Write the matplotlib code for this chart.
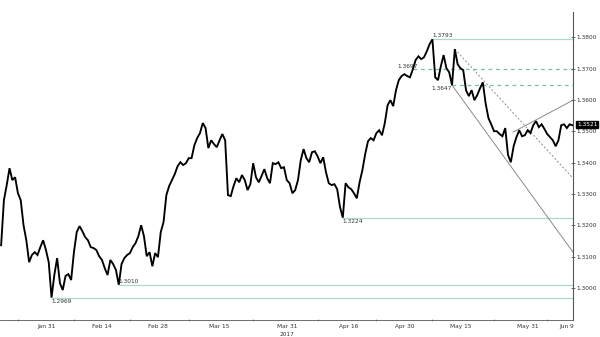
"""
USD/CAD Jan-Jun 2017 with support/resistance levels and a falling channel
"""

import matplotlib.pyplot as plt
import numpy as np

# price, one value per half trading day, starting 8 sessions before Jan 31
price = [
    1.3136, 1.3280, 1.3328, 1.3382, 1.3344, 1.3353, 1.3302, 1.3280, 1.3200, 1.3152,
    1.3082, 1.3105, 1.3114, 1.3105, 1.3130, 1.3152, 1.3121, 1.3082, 1.2969, 1.3041,
    1.3095, 1.3015, 1.2993, 1.3038, 1.3044, 1.3025, 1.3114, 1.3178, 1.3197, 1.3181,
    1.3162, 1.3152, 1.3130, 1.3127, 1.3121, 1.3101, 1.3089, 1.3063, 1.3041, 1.3089,
    1.3076, 1.3057, 1.3010, 1.3076, 1.3095, 1.3105, 1.3111, 1.3130, 1.3143, 1.3165,
    1.3200, 1.3165, 1.3101, 1.3114, 1.3069, 1.3111, 1.3098, 1.3178, 1.3210, 1.3296,
    1.3325, 1.3344, 1.3363, 1.3388, 1.3401, 1.3392, 1.3398, 1.3414, 1.3414, 1.3455,
    1.3478, 1.3494, 1.3526, 1.3510, 1.3446, 1.3471, 1.3459, 1.3449, 1.3471, 1.3491,
    1.3471, 1.3296, 1.3293, 1.3325, 1.3350, 1.3337, 1.3360, 1.3344, 1.3312, 1.3331,
    1.3398, 1.3353, 1.3337, 1.3357, 1.3379, 1.3350, 1.3334, 1.3398, 1.3395, 1.3401,
    1.3382, 1.3385, 1.3344, 1.3334, 1.3302, 1.3312, 1.3344, 1.3408, 1.3443, 1.3414,
    1.3401, 1.3433, 1.3436, 1.3420, 1.3398, 1.3417, 1.3369, 1.3334, 1.3328, 1.3331,
    1.3315, 1.3258, 1.3224, 1.3334, 1.3321, 1.3315, 1.3302, 1.3286, 1.3337, 1.3376,
    1.3427, 1.3468, 1.3478, 1.3471, 1.3494, 1.3503, 1.3487, 1.3526, 1.3583, 1.3599,
    1.3580, 1.3631, 1.3663, 1.3676, 1.3682, 1.3676, 1.3672, 1.3697, 1.3727, 1.3739,
    1.3730, 1.3736, 1.3755, 1.3778, 1.3793, 1.3672, 1.3663, 1.3707, 1.3743, 1.3701,
    1.3688, 1.3647, 1.3762, 1.3714, 1.3701, 1.3695, 1.3631, 1.3612, 1.3631, 1.3599,
    1.3615, 1.3637, 1.3656, 1.3589, 1.3542, 1.3522, 1.3500, 1.3500, 1.3491, 1.3484,
    1.3510, 1.3424, 1.3401, 1.3452, 1.3481, 1.3503, 1.3484, 1.3487, 1.3503, 1.3494,
    1.3519, 1.3532, 1.3513, 1.3522, 1.3507, 1.3491, 1.3481, 1.3471, 1.3452, 1.3471,
    1.3519, 1.3522, 1.3510, 1.3522, 1.3519,
]
first_session = -8

# marked levels
levels = [1.3793, 1.3697, 1.3647, 1.3224, 1.3010, 1.2969]
level_styles = ['solid', 'dashed', 'dashed', 'solid', 'solid', 'solid']
last_price = 1.3521

# trend lines: (session, price) at each end
trend_lower = [(72.5, 1.3647), (94.1, 1.3114)]
trend_upper = [(73.0, 1.3762), (94.1, 1.3350)]
trend_rebound = [(83.4, 1.3497), (94.1, 1.3599)]

# x axis labels
label_dates = ['2017-01-31', '2017-02-14', '2017-02-28', '2017-03-15', '2017-03-31',
               '2017-04-16', '2017-04-30', '2017-05-15', '2017-05-31', '2017-06-09']
label_texts = ['Jan 31', 'Feb 14', 'Feb 28', 'Mar 15', 'Mar 31',
               'Apr 16', 'Apr 30', 'May 15', 'May 31', 'Jun 9']
y_ticks = [1.30, 1.31, 1.32, 1.33, 1.34, 1.35, 1.36, 1.37, 1.38]

LEVEL_COLOR = '#a9dcc8'
DASH_COLOR = '#72c0aa'
TREND_COLOR = '#8a8a8a'
TEXT_COLOR = '#333333'

price = np.array(price)
sessions = first_session + 0.5 * np.arange(len(price))
label_pos = np.busday_count('2017-01-31', label_dates)

fig = plt.figure(figsize=(6, 3.37), dpi=100)
ax = fig.add_axes([0, 0.05, 0.955, 0.914])
x_right = 94.1
ax.set_xlim(-8.2, x_right)
ax.set_ylim(1.2897, 1.3880)

# horizontal levels from their pivot to the right edge
for lvl, style in zip(levels, level_styles):
    i = np.argmin(np.abs(price - lvl))
    color = DASH_COLOR if style == 'dashed' else LEVEL_COLOR
    ax.plot([sessions[i], x_right], [lvl, lvl], color=color, lw=0.9,
            linestyle=(0, (3, 3)) if style == 'dashed' else '-', zorder=1)

# trend lines
for (a, b), ls in [(trend_lower, '-'), (trend_upper, (0, (2, 2))), (trend_rebound, '-')]:
    ax.plot([a[0], b[0]], [a[1], b[1]], color=TREND_COLOR, lw=0.7, linestyle=ls, zorder=1)

# price
ax.plot(sessions, price, color='black', lw=1.35, solid_joinstyle='miter', zorder=3)

# level labels
fs = 4.2
lbl = dict(fontsize=fs, color=TEXT_COLOR, zorder=4)
def pivot(lvl):
    return sessions[np.argmin(np.abs(price - lvl))]
ax.text(pivot(1.3793), 1.3793 + 0.0004, '1.3793', ha='left', va='bottom', **lbl)
ax.text(pivot(1.3697) + 0.8, 1.3697 + 0.0003, '1.3697', ha='right', va='bottom', **lbl)
ax.text(pivot(1.3647), 1.3647 - 0.0004, '1.3647', ha='right', va='top', **lbl)
ax.text(pivot(1.3224), 1.3224 - 0.0003, '1.3224', ha='left', va='top', **lbl)
ax.text(pivot(1.3010), 1.3010 + 0.0003, '1.3010', ha='left', va='bottom', **lbl)
ax.text(pivot(1.2969), 1.2969 - 0.0004, '1.2969', ha='left', va='top', **lbl)

# axes
for s in ['top', 'left']:
    ax.spines[s].set_visible(False)
ax.spines['right'].set_color('#555555')
ax.spines['bottom'].set_color('#555555')
ax.spines['right'].set_linewidth(0.8)
ax.spines['bottom'].set_linewidth(0.6)

ax.yaxis.tick_right()
ax.set_yticks(y_ticks)
ax.set_yticklabels([f'{v:.4f}' for v in y_ticks])
ax.tick_params(axis='y', direction='inout', length=3, width=0.6, pad=1,
               labelsize=fs, labelcolor=TEXT_COLOR, colors='#555555')

mid = (label_pos[:-1] + label_pos[1:]) / 2
ax.set_xticks(np.concatenate([[label_pos[0] - 5], mid]))
ax.set_xticklabels([])
ax.tick_params(axis='x', direction='inout', length=2, width=0.5, colors='#777777')
for p, t in zip(label_pos, label_texts):
    ax.text(p, -0.012, t, transform=ax.get_xaxis_transform(), ha='center', va='top',
            fontsize=fs, color=TEXT_COLOR)
ax.text(label_pos[4], -0.04, '2017', transform=ax.get_xaxis_transform(),
        ha='center', va='top', fontsize=fs, color=TEXT_COLOR)

# last price tag
ax.annotate(f'{last_price:.4f}', xy=(1, last_price), xycoords=('axes fraction', 'data'),
            xytext=(3, 0), textcoords='offset points', ha='left', va='center',
            fontsize=fs, color='white', annotation_clip=False,
            bbox=dict(boxstyle='square,pad=0.15', fc='black', ec='black'))

plt.savefig('out.png', dpi=100)
